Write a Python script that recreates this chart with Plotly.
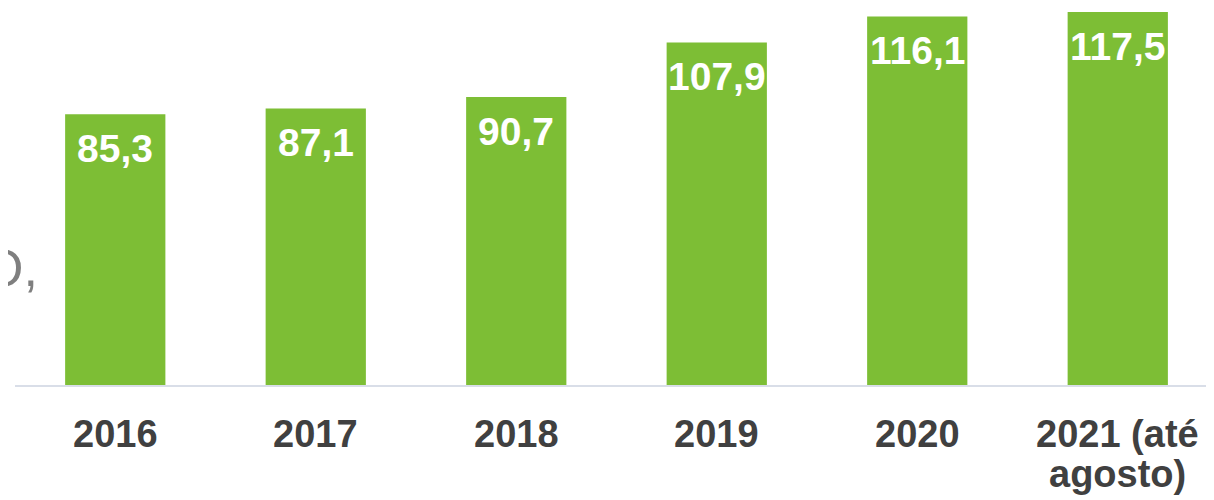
import plotly.graph_objects as go

categories = ["2016", "2017", "2018", "2019", "2020", "2021 (até<br>agosto)"]
values = [85.3, 87.1, 90.7, 107.9, 116.1, 117.5]
labels = ["85,3", "87,1", "90,7", "107,9", "116,1", "117,5"]

GREEN = "#7DBE35"
FONT = "Liberation Sans, Arial, sans-serif"

fig = go.Figure()
fig.add_trace(go.Bar(
    x=list(range(len(categories))),
    y=values,
    marker=dict(color=GREEN, line=dict(width=0)),
    width=0.5,
    hoverinfo="skip",
))

# value labels inside bars
for i, (v, t) in enumerate(zip(values, labels)):
    fig.add_annotation(
        x=i, y=v, xref="x", yref="y", text=t, showarrow=False,
        yanchor="top", yshift=-11,
        font=dict(family=FONT, size=39, color="white", weight="bold"),
    )

# category labels (tight line spacing)
for i, cat in enumerate(categories):
    for j, line in enumerate(cat.split("<br>")):
        fig.add_annotation(
            x=i, y=0, xref="x", yref="paper", text=line, showarrow=False,
            yanchor="top", yshift=-26 - 40 * j,
            font=dict(family=FONT, size=38, color="#404040", weight="bold"),
        )

fig.add_annotation(
    x=(40 - 15) / 1199, y=(377 - 260) / 377, xref="paper", yref="paper",
    text="O,", showarrow=False, xanchor="right", yanchor="middle",
    font=dict(family=FONT, size=52, color="#7F7F7F"),
)

fig.update_layout(
    width=1214, height=500,
    margin=dict(l=7, r=8, t=0, b=123, autoexpand=False),
    plot_bgcolor="white", paper_bgcolor="white",
    showlegend=False,
    bargap=0.5,
    xaxis=dict(
        range=[-0.5, 5.48], automargin=False,
        showgrid=False, zeroline=False,
        showline=True, linecolor="#D9DEE8", linewidth=2,
        ticks="", showticklabels=False,
        fixedrange=True,
    ),
    yaxis=dict(
        range=[0, 118.74], visible=False, automargin=False,
        showgrid=False, zeroline=False, fixedrange=True,
    ),
)

fig.write_html("out.html")
